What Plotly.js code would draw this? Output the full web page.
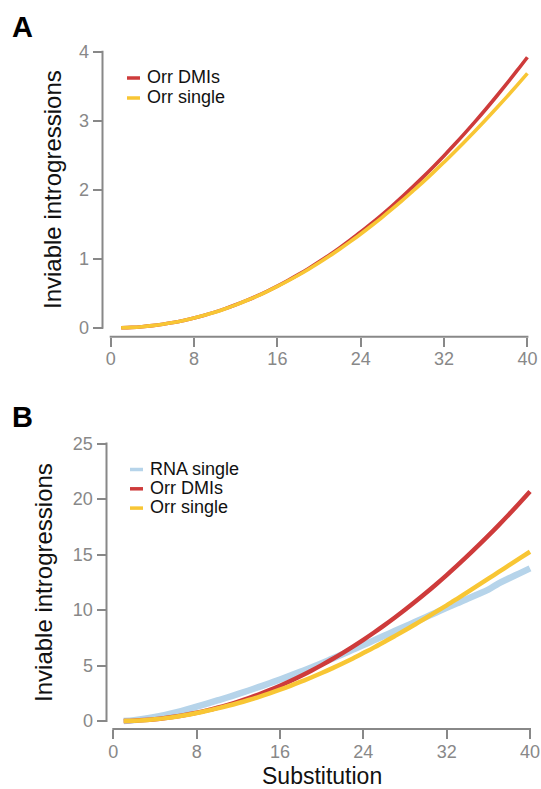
<!DOCTYPE html>
<html>
<head>
<meta charset="utf-8">
<script src="https://cdn.plot.ly/plotly-3.0.1.min.js"></script>
<style>
html,body{margin:0;padding:0;background:#ffffff;}
#chart{width:541px;height:789px;}
</style>
</head>
<body>
<div id="chart"></div>
<script>
// ---------------- data ----------------
const substitutions = [1,2,3,4,5,6,7,8,9,10,11,12,13,14,15,16,17,18,19,20,21,22,23,24,25,26,27,28,29,30,31,32,33,34,35,36,37,38,39,40];

// Panel A
const orrDmiA = [0,0.005,0.015,0.030,0.050,0.075,0.106,0.141,0.181,0.226,0.276,0.332,0.392,0.457,0.528,0.603,0.684,0.769,0.859,0.955,1.055,1.161,1.272,1.387,1.508,1.633,1.764,1.900,2.041,2.186,2.337,2.493,2.654,2.820,2.990,3.166,3.347,3.533,3.724,3.920];
const orrSingleA = [0,0.005,0.015,0.030,0.050,0.075,0.106,0.141,0.181,0.225,0.275,0.330,0.390,0.454,0.524,0.598,0.677,0.760,0.848,0.941,1.038,1.141,1.248,1.358,1.474,1.593,1.717,1.845,1.978,2.113,2.254,2.399,2.547,2.699,2.854,3.013,3.176,3.342,3.512,3.685];

// Panel B
const rnaSingleB = [0,0.08,0.20,0.36,0.55,0.77,1.02,1.30,1.57,1.85,2.14,2.44,2.75,3.07,3.40,3.74,4.09,4.45,4.82,5.20,5.61,6.02,6.43,6.84,7.26,7.68,8.10,8.52,8.94,9.36,9.78,10.20,10.60,11.02,11.42,11.84,12.40,12.86,13.30,13.75];
const orrDmiB = [0,0.027,0.080,0.159,0.265,0.398,0.557,0.742,0.954,1.193,1.458,1.749,2.067,2.412,2.783,3.180,3.604,4.055,4.532,5.035,5.565,6.122,6.705,7.314,7.950,8.613,9.302,10.017,10.759,11.528,12.323,13.144,13.992,14.867,15.768,16.695,17.649,18.630,19.637,20.670];
const orrSingleB = [0,0.02,0.07,0.15,0.26,0.39,0.54,0.72,0.92,1.14,1.37,1.62,1.89,2.18,2.49,2.82,3.17,3.54,3.92,4.32,4.74,5.18,5.64,6.12,6.61,7.12,7.64,8.17,8.72,9.28,9.85,10.42,11.01,11.61,12.21,12.82,13.43,14.04,14.65,15.25];

const xTicks = [0,8,16,24,32,40];
const yTicksA = [0,1,2,3,4];
const yTicksB = [0,5,10,15,20,25];

const panelLabels = ['A','B'];
const namesA = ['Orr DMIs','Orr single'];
const namesB = ['RNA single','Orr DMIs','Orr single'];
const xTitle = 'Substitution';
const yTitle = 'Inviable introgressions';

// ---------------- style ----------------
const RED = '#CE3B3B', YEL = '#F8C634', BLU = '#B6D4EA';
const GREY = '#888888';
const FONT = 'Liberation Sans, Arial, Helvetica, sans-serif';
const W = 541, H = 789;
const fx = p => p / W;
const fy = p => 1 - p / H;

// pixel geometry of the two panels
const geo = {
  A: {x0: 110.7, x40: 527.4, yLo: 327.7, yHi: 51.7, yMax: 4,  yLine: 102.5, xLine: 336.7, ypad: [0.08, 0.05]},
  B: {x0: 113.3, x40: 530.0, yLo: 721.0, yHi: 443.5, yMax: 25, yLine: 106.5, xLine: 729.0, ypad: [0.5, 0.2]}
};
const xPad = 0.4;
function xDomain(g){ const s=(g.x40-g.x0)/40; return [fx(g.x0-xPad*s), fx(g.x40+xPad*s)]; }
function yDomain(g){ const s=(g.yLo-g.yHi)/g.yMax; return [fy(g.yLo+g.ypad[0]*s), fy(g.yHi-g.ypad[1]*s)]; }

const traces = [
  {x: substitutions, y: orrDmiA, name: namesA[0], type:'scatter', mode:'lines', line:{color:RED, width:3.6, shape:'spline'}, xaxis:'x', yaxis:'y'},
  {x: substitutions, y: orrSingleA, name: namesA[1], type:'scatter', mode:'lines', line:{color:YEL, width:3.6, shape:'spline'}, xaxis:'x', yaxis:'y'},
  {x: substitutions, y: rnaSingleB, name: namesB[0], type:'scatter', mode:'lines', line:{color:BLU, width:6.5, shape:'spline'}, xaxis:'x2', yaxis:'y2'},
  {x: substitutions, y: orrDmiB, name: namesB[1], type:'scatter', mode:'lines', line:{color:RED, width:4.5, shape:'spline'}, xaxis:'x2', yaxis:'y2'},
  {x: substitutions, y: orrSingleB, name: namesB[2], type:'scatter', mode:'lines', line:{color:YEL, width:4.5, shape:'spline'}, xaxis:'x2', yaxis:'y2'}
];

function xAxis(g){
  return {domain: xDomain(g), range:[-xPad, 40+xPad], anchor:'free', position: fy(g.xLine),
    tickvals: xTicks, ticktext: xTicks.map(String), ticks:'outside', ticklen:9, tickwidth:2, tickcolor:GREY,
    ticklabelstandoff:-3,
    showline:false, showgrid:false, zeroline:false, automargin:false,
    tickfont:{family:FONT, size:18, color:GREY}};
}
function yAxis(g, ticks){
  return {domain: yDomain(g), range:[-g.ypad[0], g.yMax+g.ypad[1]], anchor:'free', position: fx(g.yLine),
    tickvals: ticks, ticktext: ticks.map(String), ticks:'outside', ticklen:10, tickwidth:2, tickcolor:GREY,
    showline:false, showgrid:false, zeroline:false, automargin:false,
    tickfont:{family:FONT, size:18, color:GREY}};
}

// axis lines (drawn from the tick arrays)
const shapes = [];
function axisLines(g, yTicks){
  const sx=(g.x40-g.x0)/40, sy=(g.yLo-g.yHi)/g.yMax;
  const xa = g.x0 + xTicks[0]*sx, xb = g.x0 + xTicks[xTicks.length-1]*sx;
  const ya = g.yLo - yTicks[0]*sy, yb = g.yLo - yTicks[yTicks.length-1]*sy;
  shapes.push({type:'line', xref:'paper', yref:'paper', x0:fx(xa-1), x1:fx(xb+1), y0:fy(g.xLine), y1:fy(g.xLine), line:{color:GREY, width:2}});
  shapes.push({type:'line', xref:'paper', yref:'paper', x0:fx(g.yLine), x1:fx(g.yLine), y0:fy(ya+1), y1:fy(yb-1), line:{color:GREY, width:2}});
}
axisLines(geo.A, yTicksA);
axisLines(geo.B, yTicksB);

const annotations = [];
// legends (swatch + label)
function legend(names, colors, swX, txtX, yTop, step){
  names.forEach((n,i)=>{
    const yc = yTop + i*step;
    shapes.push({type:'line', xref:'paper', yref:'paper', x0:fx(swX), x1:fx(swX+13), y0:fy(yc+1), y1:fy(yc+1), line:{color:colors[i], width:3.5}});
    annotations.push({xref:'paper', yref:'paper', x:fx(txtX), y:fy(yc), xanchor:'left', yanchor:'middle', showarrow:false, text:n,
      font:{family:FONT, size:18, color:'#111111'}});
  });
}
legend(namesA, [RED, YEL], 127, 145, 77, 20);
legend(namesB, [BLU, RED, YEL], 130, 148, 468.5, 19.3);

// axis titles
annotations.push({xref:'paper', yref:'paper', x:fx(52.3), y:fy((geo.A.yLo+geo.A.yHi)/2), textangle:-90, xanchor:'center', yanchor:'middle', showarrow:false, text:yTitle, font:{family:FONT, size:24, color:'#111111'}});
annotations.push({xref:'paper', yref:'paper', x:fx(43.7), y:fy((geo.B.yLo+geo.B.yHi)/2), textangle:-90, xanchor:'center', yanchor:'middle', showarrow:false, text:yTitle, font:{family:FONT, size:24, color:'#111111'}});
annotations.push({xref:'paper', yref:'paper', x:fx((geo.B.x0+geo.B.x40)/2), y:fy(775.5), xanchor:'center', yanchor:'middle', showarrow:false, text:xTitle, font:{family:FONT, size:23, color:'#111111'}});
// panel letters
annotations.push({xref:'paper', yref:'paper', x:fx(10), y:fy(27.5), xanchor:'left', yanchor:'middle', showarrow:false, text:'<b>'+panelLabels[0]+'</b>', font:{family:FONT, size:29, color:'#000000'}});
annotations.push({xref:'paper', yref:'paper', x:fx(10), y:fy(417), xanchor:'left', yanchor:'middle', showarrow:false, text:'<b>'+panelLabels[1]+'</b>', font:{family:FONT, size:29, color:'#000000'}});

const layout = {
  width: W, height: H,
  margin: {l:0, r:0, t:0, b:0, pad:0},
  paper_bgcolor:'#ffffff', plot_bgcolor:'rgba(0,0,0,0)',
  showlegend:false,
  font:{family:FONT},
  xaxis: xAxis(geo.A), yaxis: yAxis(geo.A, yTicksA),
  xaxis2: xAxis(geo.B), yaxis2: yAxis(geo.B, yTicksB),
  shapes: shapes, annotations: annotations
};

Plotly.newPlot('chart', traces, layout, {staticPlot:true, displayModeBar:false});
</script>
</body>
</html>
